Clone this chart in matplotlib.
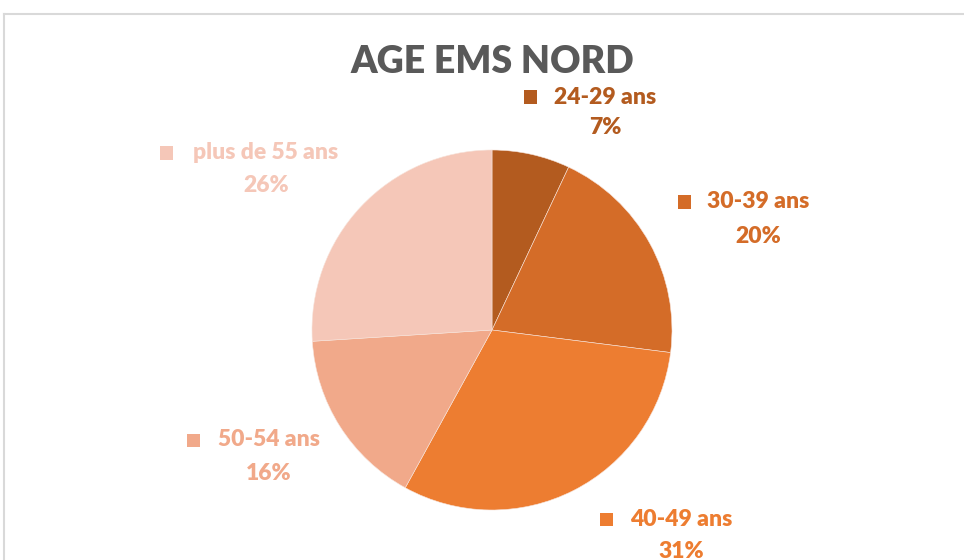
import matplotlib
matplotlib.use("Agg")
import matplotlib.pyplot as plt
from matplotlib.patches import Rectangle
from matplotlib.lines import Line2D

categories = ["24-29 ans", "30-39 ans", "40-49 ans", "50-54 ans", "plus de 55 ans"]
values = [7, 20, 31, 16, 26]
pct_labels = ["7%", "20%", "31%", "16%", "26%"]
colors = ["#B35B1F", "#D46C28", "#ED7D31", "#F1A98A", "#F5C7B8"]

W, H = 964, 560
fig = plt.figure(figsize=(W / 100, H / 100), dpi=100)
fig.patch.set_facecolor("white")

def px(x, y):
    return x / W, 1 - y / H

# chart border (top and left visible)
fig.add_artist(Line2D([4 / W, 1], [1 - 14 / H, 1 - 14 / H], transform=fig.transFigure,
                      color="#D9D9D9", lw=1.5))
fig.add_artist(Line2D([4 / W, 4 / W], [1 - 14 / H, 0], transform=fig.transFigure,
                      color="#D9D9D9", lw=1.5))

cx, cy, r = 492, 330, 180
ax = fig.add_axes([(cx - r) / W, (H - cy - r) / H, 2 * r / W, 2 * r / H])
ax.pie(values, colors=colors, startangle=90, counterclock=False,
       wedgeprops=dict(edgecolor="#F7E3DA", linewidth=0.4))
ax.set_xlim(-1, 1)
ax.set_ylim(-1, 1)
ax.set_aspect("equal")
ax.axis("off")

font = "Lato"
fig.text(*px(492, 62), "AGE EMS NORD", ha="center", va="center", fontsize=27,
         fontweight="heavy", color="#595959", family=font)

# label layout: (square x, text center x, name y, pct y)
label_pos = [(530, 605, 97, 128), (684, 758, 202, 236), (606, 681, 519, 551),
             (193, 269, 440, 473), (166, 266, 153, 186)]
for (sx, tx, ny, py), cat, pct, col in zip(label_pos, categories, pct_labels, colors):
    fig.add_artist(Rectangle(((sx - 6.5) / W, 1 - (ny + 6.5) / H), 13 / W, 13 / H,
                             transform=fig.transFigure, color=col, lw=0))
    fig.text(*px(tx, ny), cat, ha="center", va="center", fontsize=16.5,
             fontweight="heavy", color=col, family=font)
    fig.text(*px(tx, py), pct, ha="center", va="center", fontsize=16.5,
             fontweight="heavy", color=col, family=font)

fig.savefig("out.png", dpi=100, facecolor="white")
